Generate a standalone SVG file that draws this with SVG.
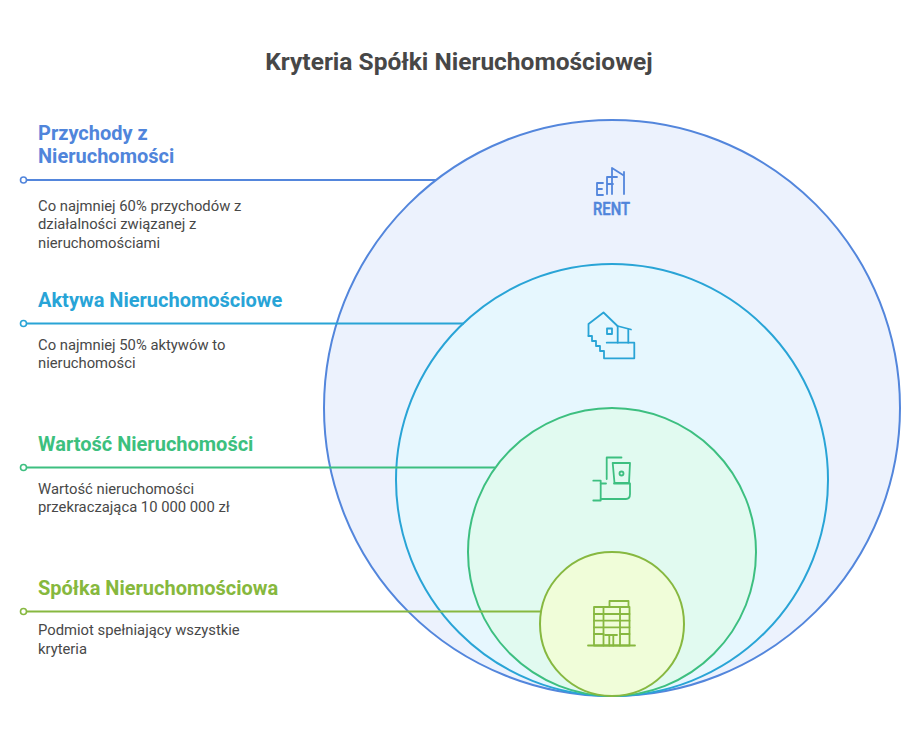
<svg xmlns="http://www.w3.org/2000/svg" width="924" height="744" viewBox="0 0 924 744">
<style>
.title{font-family:Roboto,"Liberation Sans",sans-serif;font-weight:700;font-size:24.5px;fill:#474747}
.head{font-family:Roboto,"Liberation Sans",sans-serif;font-weight:700;font-size:20px}
.body{font-family:Roboto,"Liberation Sans",sans-serif;font-size:14.8px;fill:#484848}
.ico{fill:none;stroke-width:1.8;stroke-linecap:round;stroke-linejoin:round}
.dot{fill:#ffffff;stroke-width:1.6}
.ln{stroke-width:2}
.b{stroke:#5386DC}.c{stroke:#29A4D6}.g{stroke:#3DBF80}.l{stroke:#87B840}
.bf{fill:#5085DB}.cf{fill:#28A4D7}.gf{fill:#3CC07E}.lf{fill:#86B83D}
</style>
<rect width="924" height="744" fill="#ffffff"/>
<text class="title" x="459" y="70" text-anchor="middle">Kryteria Spółki Nieruchomościowej</text>

<g id="circle-przychody">
<circle cx="612" cy="408" r="288" fill="#ECF2FD" stroke="#5386DC" stroke-width="2"/>
</g>
<g id="circle-aktywa">
<circle cx="612" cy="480" r="216" fill="#E6F7FE" stroke="#29A4D6" stroke-width="2"/>
</g>
<g id="circle-wartosc">
<circle cx="612" cy="552" r="144" fill="#E1FAF0" stroke="#3DBF80" stroke-width="2"/>
</g>
<g id="circle-spolka">
<circle cx="612" cy="624" r="72" fill="#F0FDD9" stroke="#87B840" stroke-width="2"/>
</g>

<g id="connectors">
<line class="ln b" x1="27" y1="180" x2="436" y2="180"/>
<circle class="dot b" cx="23.5" cy="180" r="3"/>
<line class="ln c" x1="27" y1="323.5" x2="464" y2="323.5"/>
<circle class="dot c" cx="23.5" cy="323.5" r="3"/>
<line class="ln g" x1="27" y1="467.5" x2="495" y2="467.5"/>
<circle class="dot g" cx="23.5" cy="467.5" r="3"/>
<line class="ln l" x1="27" y1="611.5" x2="541" y2="611.5"/>
<circle class="dot l" cx="23.5" cy="611.5" r="3"/>
</g>

<g id="label-przychody">
<text class="head bf" x="38" y="140">Przychody z</text>
<text class="head bf" x="38" y="163">Nieruchomości</text>
<text class="body" x="38" y="210.5">Co najmniej 60% przychodów z</text>
<text class="body" x="38" y="229">działalności związanej z</text>
<text class="body" x="38" y="247.5">nieruchomościami</text>
</g>
<g id="label-aktywa">
<text class="head cf" x="38" y="306.5">Aktywa Nieruchomościowe</text>
<text class="body" x="38" y="350">Co najmniej 50% aktywów to</text>
<text class="body" x="38" y="368">nieruchomości</text>
</g>
<g id="label-wartosc">
<text class="head gf" x="38" y="450.5">Wartość Nieruchomości</text>
<text class="body" x="38" y="494">Wartość nieruchomości</text>
<text class="body" x="38" y="512">przekraczająca 10 000 000 zł</text>
</g>
<g id="label-spolka">
<text class="head lf" x="38" y="595">Spółka Nieruchomościowa</text>
<text class="body" x="38" y="635">Podmiot spełniający wszystkie</text>
<text class="body" x="38" y="653.5">kryteria</text>
</g>

<g id="icon-rent" class="ico b">
<path d="M597 195V183H603M597 189H602M597 195H603"/>
<path d="M607 194V177H617M607 184H613"/>
<path d="M612 194V168L623 175M624 172V194"/>
<text x="611.5" y="215" text-anchor="middle" font-family="Roboto,'Liberation Sans',sans-serif" font-weight="500" font-size="18" textLength="37" lengthAdjust="spacingAndGlyphs" fill="#5085DB" stroke="#5085DB" stroke-width="0.5">RENT</text>
</g>

<g id="icon-house" class="ico c">
<path d="M588.5 336V324L603.5 312.5L617.5 326"/>
<path d="M617.5 326L631 329.5"/>
<path d="M617.7 327V342.7M628.3 329.5V342.7"/>
<path d="M588.5 336H592V341H596V346H600V351H604V358.3H634.3V342.7H606.7"/>
<rect x="607" y="328.5" width="5" height="5.5"/>
</g>

<g id="icon-money" class="ico g">
<path d="M621.5 457.5H606.7V479"/>
<path d="M612.7 463H630L629 483H614.5Z"/>
<circle cx="621.5" cy="473.5" r="2"/>
<path d="M593.3 480.7H600.7V500.5H593.3"/>
<path d="M600.7 483.5H606M600.7 499H626Q630 499 630 494V483.5H614"/>
</g>

<g id="icon-building" class="ico l">
<path d="M588 645.5H635"/>
<rect x="594" y="607" width="35.5" height="38.5"/>
<rect x="609.5" y="601" width="19" height="6"/>
<path d="M603.5 607V645.5M620 607V645.5"/>
<path d="M594 614H629.5M594 620.7H629.5M594 627.3H629.5M594 634H603.5M620 634H629.5"/>
<path d="M605 635H617M609.3 635V645.5M613.3 635V645.5"/>
</g>
</svg>
